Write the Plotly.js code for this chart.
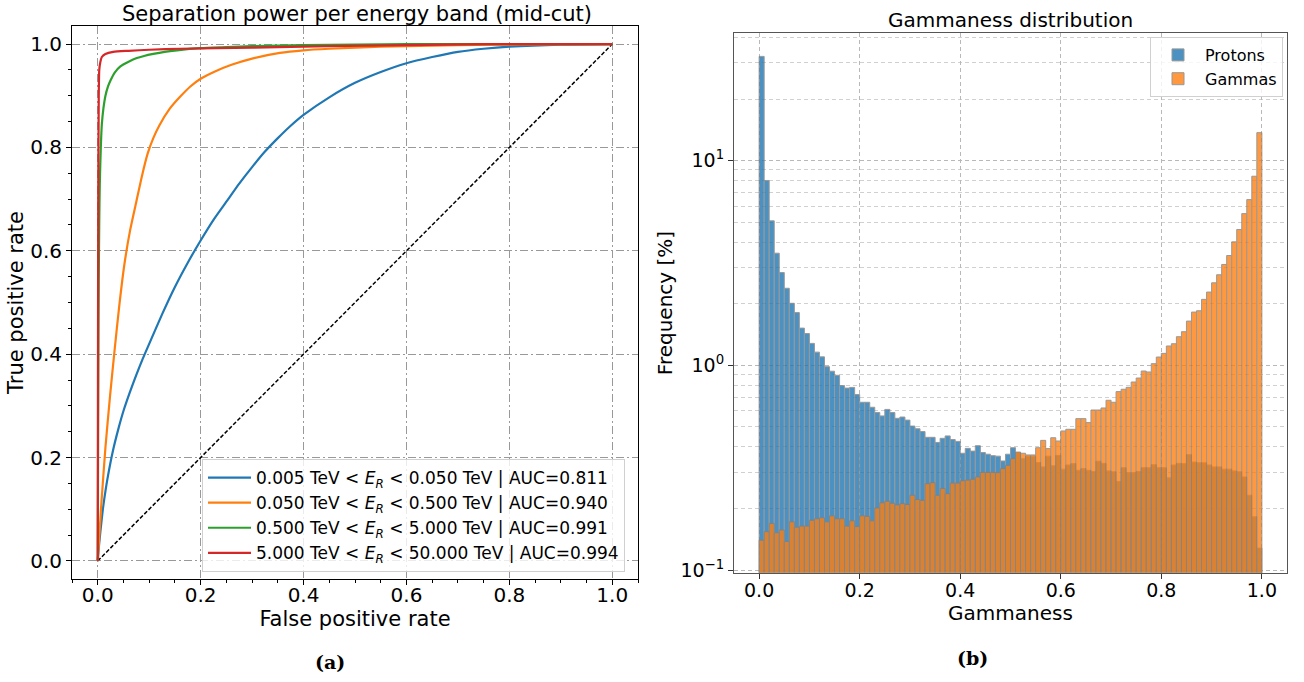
<!DOCTYPE html>
<html>
<head>
<meta charset="utf-8">
<script src="https://cdn.plot.ly/plotly-3.0.1.min.js"></script>
<style>html,body{margin:0;padding:0;background:#fff;}#chart{width:1304px;height:682px;}</style>
</head>
<body>
<div id="chart"></div>
<script>
// ---------- ROC curves (panel a) ----------
const bandLabels = [
  '0.005 TeV &lt; <i>E</i><sub><i>R</i></sub> &lt; 0.050 TeV | AUC=0.811',
  '0.050 TeV &lt; <i>E</i><sub><i>R</i></sub> &lt; 0.500 TeV | AUC=0.940',
  '0.500 TeV &lt; <i>E</i><sub><i>R</i></sub> &lt; 5.000 TeV | AUC=0.991',
  '5.000 TeV &lt; <i>E</i><sub><i>R</i></sub> &lt; 50.000 TeV | AUC=0.994'
];
const fprBand1 = [0, 0.002, 0.005, 0.01, 0.015, 0.02, 0.03, 0.04, 0.05, 0.062, 0.075, 0.087, 0.1, 0.125, 0.15, 0.175, 0.2, 0.225, 0.25, 0.275, 0.3, 0.325, 0.35, 0.375, 0.4, 0.45, 0.5, 0.55, 0.6, 0.65, 0.7, 0.75, 0.8, 0.9, 1.0];
const tprBand1 = [0, 0.025, 0.055, 0.1, 0.135, 0.165, 0.215, 0.255, 0.29, 0.325, 0.36, 0.39, 0.42, 0.477, 0.53, 0.577, 0.62, 0.66, 0.695, 0.73, 0.762, 0.792, 0.818, 0.842, 0.863, 0.897, 0.925, 0.946, 0.963, 0.975, 0.985, 0.991, 0.995, 0.999, 1.0];
const fprBand2 = [0, 0.007, 0.015, 0.024, 0.033, 0.042, 0.052, 0.063, 0.075, 0.086, 0.097, 0.108, 0.12, 0.14, 0.16, 0.18, 0.2, 0.23, 0.26, 0.3, 0.354, 0.4, 0.45, 0.55, 0.7, 0.85, 1.0];
const tprBand2 = [0, 0.11, 0.22, 0.32, 0.41, 0.495, 0.575, 0.64, 0.695, 0.745, 0.788, 0.818, 0.843, 0.875, 0.898, 0.918, 0.933, 0.948, 0.96, 0.972, 0.983, 0.988, 0.991, 0.995, 0.998, 0.9995, 1.0];
const fprBand3 = [0, 0.0005, 0.001, 0.0015, 0.002, 0.003, 0.004, 0.006, 0.008, 0.011, 0.015, 0.02, 0.025, 0.033, 0.044, 0.06, 0.076, 0.09, 0.108, 0.13, 0.154, 0.2, 0.25, 0.3, 0.4, 0.5, 0.6, 1.0];
const tprBand3 = [0, 0.15, 0.3, 0.45, 0.55, 0.66, 0.73, 0.8, 0.845, 0.875, 0.9, 0.918, 0.93, 0.945, 0.957, 0.966, 0.973, 0.977, 0.981, 0.985, 0.988, 0.992, 0.994, 0.996, 0.998, 0.999, 1.0, 1.0];
const fprBand4 = [0, 0.0005, 0.001, 0.002, 0.003, 0.005, 0.008, 0.015, 0.03, 0.06, 0.1, 0.16, 0.3, 0.45, 0.6, 0.75, 1.0];
const tprBand4 = [0, 0.4, 0.7, 0.9, 0.95, 0.965, 0.975, 0.981, 0.985, 0.987, 0.989, 0.991, 0.993, 0.996, 0.998, 1.0, 1.0];
const chanceFpr = [0, 1];
const chanceTpr = [0, 1];

// ---------- Gammaness histogram (panel b), 100 bins on [0,1], percent ----------
const histBinCount = 100;
const protonPct = [
  32.3, 8.0, 5.08, 3.53, 2.84, 2.38, 2.01, 1.81, 1.52, 1.43,
  1.28, 1.16, 1.10, 0.985, 0.936, 0.894, 0.796, 0.774, 0.78, 0.72,
  0.66, 0.66, 0.624, 0.588, 0.566, 0.609, 0.588, 0.551, 0.559, 0.54,
  0.505, 0.49, 0.475, 0.445, 0.445, 0.42, 0.44, 0.452, 0.434, 0.425,
  0.372, 0.393, 0.381, 0.405, 0.375, 0.368, 0.362, 0.36, 0.341, 0.368,
  0.396, 0.374, 0.35, 0.36, 0.36, 0.335, 0.319, 0.36, 0.323, 0.363,
  0.311, 0.326, 0.331, 0.307, 0.313, 0.307, 0.303, 0.34, 0.332, 0.305,
  0.302, 0.271, 0.316, 0.299, 0.299, 0.303, 0.316, 0.316, 0.327, 0.316,
  0.316, 0.282, 0.326, 0.332, 0.331, 0.366, 0.337, 0.334, 0.334, 0.326,
  0.319, 0.319, 0.311, 0.311, 0.305, 0.302, 0.285, 0.232, 0.182, 0.128
];
const gammaPct = [
  0.140, 0.154, 0.169, 0.152, 0.157, 0.138, 0.172, 0.162, 0.164, 0.164,
  0.175, 0.178, 0.180, 0.172, 0.184, 0.178, 0.178, 0.164, 0.174, 0.163,
  0.184, 0.183, 0.174, 0.201, 0.213, 0.217, 0.212, 0.208, 0.211, 0.209,
  0.232, 0.221, 0.219, 0.264, 0.267, 0.232, 0.250, 0.236, 0.266, 0.266,
  0.273, 0.275, 0.278, 0.285, 0.300, 0.300, 0.300, 0.299, 0.313, 0.325,
  0.350, 0.377, 0.372, 0.365, 0.365, 0.396, 0.43, 0.392, 0.443, 0.427,
  0.478, 0.487, 0.487, 0.549, 0.549, 0.525, 0.605, 0.605, 0.619, 0.675,
  0.66, 0.744, 0.764, 0.781, 0.829, 0.867, 0.938, 0.928, 1.019, 1.098,
  1.144, 1.243, 1.275, 1.38, 1.46, 1.645, 1.82, 1.848, 2.10, 2.28,
  2.53, 2.77, 3.11, 3.44, 4.01, 4.61, 5.51, 6.45, 8.39, 13.7
];
const histLabels = ['Protons', 'Gammas'];
const yLogTickVals = [0.1, 1, 10];
const yLogTickText = ['10<sup>\u22121</sup>', '10<sup>0</sup>', '10<sup>1</sup>'];

// ---------- build ----------
const binWidth = 1 / histBinCount;
const binCenters = protonPct.map((_, i) => (i + 0.5) * binWidth);

const rocColors = ['#1f77b4', '#ff7f0e', '#2ca02c', '#d62728'];
const rocX = [fprBand1, fprBand2, fprBand3, fprBand4];
const rocY = [tprBand1, tprBand2, tprBand3, tprBand4];

const traces = [];
traces.push({
  x: chanceFpr, y: chanceTpr, mode: 'lines', type: 'scatter',
  line: {color: '#000', width: 1.5, dash: '4px,2px'},
  showlegend: false, xaxis: 'x', yaxis: 'y', hoverinfo: 'skip'
});
for (let k = 0; k < 4; k++) {
  traces.push({
    x: rocX[k], y: rocY[k], mode: 'lines', type: 'scatter', name: bandLabels[k],
    line: {color: rocColors[k], width: 2.2, shape: 'spline', smoothing: 0.6}, xaxis: 'x', yaxis: 'y', legend: 'legend'
  });
}
traces.push({
  type: 'bar', x: binCenters, y: protonPct, width: binWidth, name: histLabels[0],
  marker: {color: '#1f77b4', line: {color: '#808080', width: 1}}, opacity: 0.8,
  xaxis: 'x2', yaxis: 'y2', legend: 'legend2'
});
traces.push({
  type: 'bar', x: binCenters, y: gammaPct, width: binWidth, name: histLabels[1],
  marker: {color: '#ff7f0e', line: {color: '#808080', width: 1}}, opacity: 0.8,
  xaxis: 'x2', yaxis: 'y2', legend: 'legend2'
});

const W = 1304, H = 682;
const px = v => v / W;
const py = v => 1 - v / H;
const FONT = 'DejaVu Sans, sans-serif';
const gridA = '8px,3px,2px,3px';
const minorY2 = [0.2,0.3,0.4,0.5,0.6,0.7,0.8,0.9,2,3,4,5,6,7,8,9,20,30,40];

const layout = {
  width: W, height: H,
  margin: {l: 0, r: 0, t: 0, b: 0},
  paper_bgcolor: '#fff', plot_bgcolor: '#fff',
  font: {family: FONT, size: 18, color: '#000'},
  barmode: 'overlay', bargap: 0,
  showlegend: true,
  xaxis: {
    domain: [px(72), px(638)], range: [-0.05, 1.05], anchor: 'y',
    tickvals: [0, 0.2, 0.4, 0.6, 0.8, 1.0], tickformat: '.1f', tickfont: {size: 20},
    ticks: 'outside', ticklen: 5, tickwidth: 1, tickcolor: '#000', ticklabelstandoff: -7,
    minor: {dtick: 0.05, tick0: 0, ticks: 'outside', ticklen: 3, tickcolor: '#000', showgrid: false},
    showline: true, mirror: true, linecolor: '#000', linewidth: 1,
    showgrid: true, gridcolor: '#999', griddash: gridA, gridwidth: 1, zeroline: false,
    title: {text: 'False positive rate', font: {size: 21}, standoff: 4}
  },
  yaxis: {
    domain: [py(579), py(26)], range: [-0.035, 1.035], anchor: 'x',
    tickvals: [0, 0.2, 0.4, 0.6, 0.8, 1.0], tickformat: '.1f', tickfont: {size: 20},
    ticks: 'outside', ticklen: 5, tickwidth: 1, tickcolor: '#000',
    minor: {dtick: 0.05, tick0: 0, ticks: 'outside', ticklen: 3, tickcolor: '#000', showgrid: false},
    showline: true, mirror: true, linecolor: '#000', linewidth: 1,
    showgrid: true, gridcolor: '#999', griddash: gridA, gridwidth: 1, zeroline: false,
    title: {text: 'True positive rate', font: {size: 21}, standoff: 0}
  },
  xaxis2: {
    domain: [px(734), px(1287)], range: [-0.05, 1.05], anchor: 'y2',
    tickvals: [0, 0.2, 0.4, 0.6, 0.8, 1.0], tickformat: '.1f', tickfont: {size: 19},
    ticks: 'outside', ticklen: 5, tickwidth: 1, tickcolor: '#333', ticklabelstandoff: -5,
    showline: true, mirror: true, linecolor: '#555', linewidth: 1,
    showgrid: true, gridcolor: '#b8b8b8', griddash: '4px,3px', gridwidth: 1, zeroline: false,
    title: {text: 'Gammaness', font: {size: 20}, standoff: 2}
  },
  yaxis2: {
    type: 'log', domain: [py(572.7), py(33.3)], range: [-1.013, 1.622], anchor: 'x2',
    tickmode: 'array', tickvals: yLogTickVals, ticktext: yLogTickText, tickfont: {size: 19},
    ticks: 'outside', ticklen: 5, tickwidth: 1, tickcolor: '#333',
    minor: {tickmode: 'array', tickvals: minorY2, showgrid: true, gridcolor: '#d0d0d0', griddash: '4px,3px', gridwidth: 1, ticks: ''},
    showline: true, mirror: true, linecolor: '#555', linewidth: 1,
    showgrid: true, gridcolor: '#b8b8b8', griddash: '4px,3px', gridwidth: 1, zeroline: false,
    title: {text: 'Frequency [%]', font: {size: 20}, standoff: 2}
  },
  legend: {
    x: px(202), y: py(459), xanchor: 'left', yanchor: 'top',
    bgcolor: 'rgba(255,255,255,0.8)', bordercolor: '#d0d0d0', borderwidth: 1,
    font: {family: FONT, size: 17, color: '#000'}, tracegroupgap: 0, itemwidth: 43
  },
  legend2: {
    x: px(1283), y: py(37), xanchor: 'right', yanchor: 'top',
    bgcolor: 'rgba(255,255,255,0.8)', bordercolor: '#d0d0d0', borderwidth: 1,
    font: {family: FONT, size: 16, color: '#000'}, tracegroupgap: 0, itemwidth: 44
  },
  annotations: [
    {text: 'Separation power per energy band (mid-cut)', x: px(357), y: py(14), xref: 'paper', yref: 'paper',
     xanchor: 'center', yanchor: 'middle', showarrow: false, font: {family: FONT, size: 21, color: '#000'}},
    {text: 'Gammaness distribution', x: px(1010), y: py(20), xref: 'paper', yref: 'paper',
     xanchor: 'center', yanchor: 'middle', showarrow: false, font: {family: FONT, size: 20, color: '#000'}},
    {text: '<b>(a)</b>', x: px(330), y: py(662), xref: 'paper', yref: 'paper',
     xanchor: 'center', yanchor: 'middle', showarrow: false, font: {family: 'DejaVu Serif, serif', size: 19, color: '#000'}},
    {text: '<b>(b)</b>', x: px(972), y: py(658), xref: 'paper', yref: 'paper',
     xanchor: 'center', yanchor: 'middle', showarrow: false, font: {family: 'DejaVu Serif, serif', size: 19, color: '#000'}}
  ]
};

Plotly.newPlot('chart', traces, layout, {displayModeBar: false, staticPlot: true});
</script>
</body>
</html>
